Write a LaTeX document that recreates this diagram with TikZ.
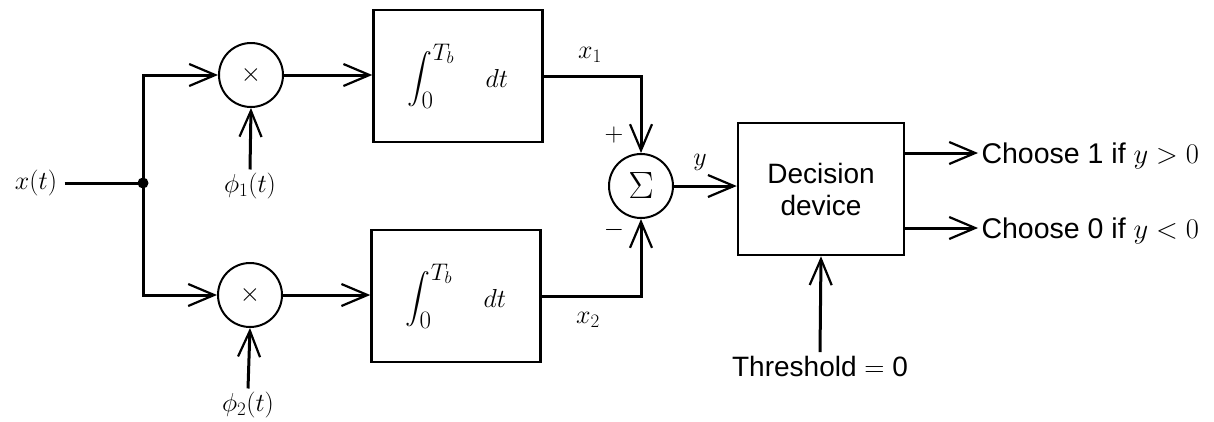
\RequirePackage{fix-cm}
\documentclass[tikz,border=0pt]{standalone}
\usepackage{exscale}
\usepackage{fontspec}
\setsansfont{Liberation Sans}
\usetikzlibrary{arrows.meta}
\DeclareMathSizes{26}{26}{19}{15}
\newcommand{\myinteg}{\fontsize{31}{34}\selectfont$\displaystyle\int_{\hbox{\fontsize{25}{25}\selectfont 0}}^{\hbox{\fontsize{24}{24}\selectfont$T_b$}}\hbox{\fontsize{26}{26}\selectfont$\quad dt$}$}
\begin{document}
\begin{tikzpicture}[x=1pt,y=-1pt,
  line/.style={line width=3pt},
  arr/.style={line width=3pt,-{Straight Barb[length=26pt,width=22pt,line width=2.2pt]}},
  blk/.style={draw,line width=2.5pt,minimum width=169pt,minimum height=132pt,inner sep=0pt},
  circ/.style={draw,circle,line width=2pt,minimum size=64pt,inner sep=0pt},
  lab/.style={font=\fontsize{26}{30}\selectfont},
  sans/.style={font=\sffamily\fontsize{28}{32}\selectfont},
  outtxt/.style={font=\sffamily\fontsize{28.5}{32}\selectfont,anchor=west,text height=20pt,text depth=0pt}]
\useasboundingbox (0,0) rectangle (1214,421);
% nodes
\node[lab] (xt) at (36,183) {$x(t)$};
\node[circle,fill,inner sep=0pt,minimum size=11pt] (j) at (143,183) {};
\node[circ] (m1) at (251,75) {\fontsize{26}{30}\selectfont$\times$};
\node[circ] (m2) at (250,295) {\fontsize{26}{30}\selectfont$\times$};
\node[lab] (p1) at (250,186) {$\phi_1(t)$};
\node[lab] (p2) at (248,405) {$\phi_2(t)$};
\node[blk] (b1) at (458,76) {\myinteg};
\node[blk] (b2) at (456,296) {\myinteg};
\node[circ] (s) at (641,186) {\fontsize{38}{40}\selectfont$\Sigma$};
\node[lab] (x1) at (590,55) {$x_1$};
\node[lab] (x2) at (588,320) {$x_2$};
\node[lab] (plus) at (614,135) {$+$};
\node[lab] (minus) at (614,230) {$-$};
\node[lab] (y) at (700,162) {$y$};
\node[blk,minimum width=166pt,minimum height=132pt,sans,align=center] (d) at (821,189) {Decision\\device};
\node[outtxt] (c1) at (978,153) {Choose 1 if $y>0$};
\node[outtxt] (c2) at (978,228) {Choose 0 if $y<0$};
\node[sans] (th) at (820,366) {Threshold $=$ 0};
% connectors
\draw[line] ([xshift=4pt]xt.east) -- (j.center);
\draw[arr] (j.center) |- (m1.west);
\draw[arr] (j.center) |- (m2.west);
\draw[arr] (p1.north) -- (m1.south);
\draw[arr] (p2.north) -- (m2.south);
\draw[arr] (m1.east) -- (m1.east -| b1.west);
\draw[arr] (m2.east) -- (m2.east -| b2.west);
\draw[arr] (b1.east) -| (s.north);
\draw[arr] (b2.east) -| (s.south);
\draw[arr] (s.east) -- (s.east -| d.west);
\draw[arr] (c1.west -| d.east) -- (c1.west);
\draw[arr] (c2.west -| d.east) -- (c2.west);
\draw[arr] (th.north) -- (d.south);
\end{tikzpicture}
\end{document}
